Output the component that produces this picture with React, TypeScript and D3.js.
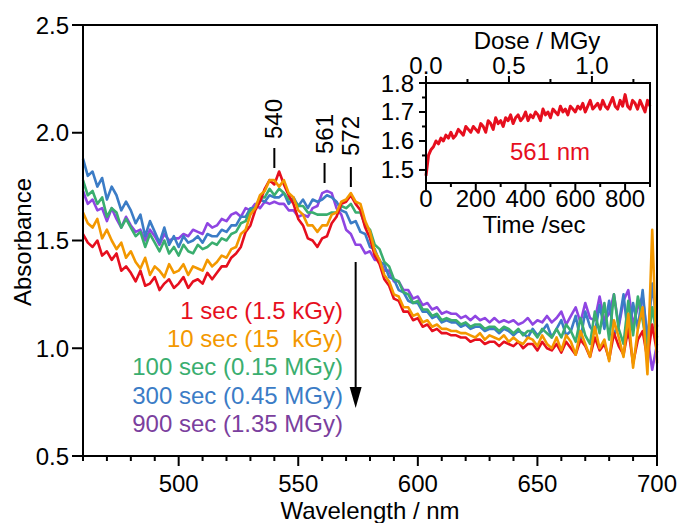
import React, { useEffect, useRef } from 'react';
import * as d3 from 'd3';

const width = 677;
const height = 523;
const plot = { left: 83, right: 657, top: 25, bottom: 456 };
const inset = { left: 426, right: 650, top: 83, bottom: 183 };
const font = "'Liberation Sans', Arial, Helvetica, sans-serif";

// wavelength axis of the spectra, every 2 nm from 460 to 700
const wlStart = 460;
const wlStep = 2;

// absorbance spectra
const sec1 = [
  1.53, 1.49, 1.47, 1.50, 1.43, 1.45, 1.41, 1.44, 1.36, 1.38,
  1.35, 1.31, 1.36, 1.29, 1.30, 1.33, 1.27, 1.30, 1.32, 1.28,
  1.30, 1.33, 1.28, 1.31, 1.32, 1.30, 1.35, 1.32, 1.35, 1.38,
  1.38, 1.42, 1.44, 1.47, 1.54, 1.57, 1.64, 1.68, 1.74, 1.78,
  1.76, 1.82, 1.76, 1.71, 1.67, 1.60, 1.57, 1.51, 1.50, 1.47,
  1.51, 1.52, 1.58, 1.61, 1.67, 1.68, 1.71, 1.67, 1.64, 1.56,
  1.51, 1.43, 1.39, 1.32, 1.29, 1.23, 1.22, 1.17, 1.17, 1.13,
  1.14, 1.10, 1.11, 1.08, 1.09, 1.07, 1.07, 1.06, 1.06, 1.05,
  1.05, 1.03, 1.04, 1.04, 1.02, 1.03, 1.03, 1.01, 1.03, 1.02,
  1.01, 1.03, 1.00, 1.02, 1.02, 0.99, 1.03, 1.00, 0.99, 1.02,
  0.98, 1.03, 1.00, 0.97, 1.04, 1.01, 0.96, 1.05, 0.99, 1.02,
  0.95, 1.07, 1.01, 0.97, 1.09, 0.93, 1.04, 1.08, 0.95, 1.11,
  0.98,
];
const sec10 = [
  1.63, 1.58, 1.56, 1.60, 1.51, 1.55, 1.50, 1.46, 1.49, 1.42,
  1.45, 1.40, 1.37, 1.42, 1.34, 1.38, 1.36, 1.33, 1.39, 1.35,
  1.36, 1.39, 1.34, 1.38, 1.37, 1.36, 1.41, 1.38, 1.40, 1.43,
  1.42, 1.46, 1.47, 1.53, 1.55, 1.62, 1.65, 1.71, 1.73, 1.78,
  1.78, 1.75, 1.78, 1.72, 1.70, 1.64, 1.62, 1.57, 1.57, 1.54,
  1.57, 1.57, 1.62, 1.63, 1.68, 1.69, 1.72, 1.68, 1.67, 1.59,
  1.54, 1.45, 1.41, 1.34, 1.31, 1.25, 1.24, 1.19, 1.19, 1.15,
  1.16, 1.12, 1.13, 1.10, 1.11, 1.09, 1.09, 1.08, 1.08, 1.07,
  1.07, 1.06, 1.05, 1.07, 1.04, 1.06, 1.05, 1.04, 1.06, 1.03,
  1.05, 1.03, 1.02, 1.05, 1.04, 1.01, 1.06, 1.02, 1.00, 1.05,
  0.99, 1.06, 1.03, 0.97, 1.08, 1.02, 0.96, 1.10, 1.00, 1.04,
  0.94, 1.13, 1.05, 0.96, 1.16, 0.91, 1.09, 1.19, 0.88, 1.55,
  0.93,
];
const sec100 = [
  1.78, 1.71, 1.73, 1.67, 1.70, 1.61, 1.65, 1.63, 1.56, 1.60,
  1.56, 1.52, 1.54, 1.47, 1.53, 1.49, 1.45, 1.50, 1.44, 1.47,
  1.43, 1.48, 1.45, 1.44, 1.48, 1.46, 1.47, 1.49, 1.48, 1.51,
  1.50, 1.53, 1.54, 1.58, 1.59, 1.64, 1.65, 1.70, 1.70, 1.74,
  1.71, 1.74, 1.72, 1.69, 1.69, 1.66, 1.66, 1.63, 1.63, 1.62,
  1.62, 1.62, 1.63, 1.63, 1.66, 1.65, 1.67, 1.63, 1.63, 1.57,
  1.55, 1.48, 1.46, 1.40, 1.38, 1.32, 1.31, 1.26, 1.25, 1.21,
  1.22, 1.18, 1.18, 1.15, 1.16, 1.13, 1.14, 1.13, 1.13, 1.11,
  1.12, 1.10, 1.11, 1.11, 1.09, 1.10, 1.10, 1.08, 1.10, 1.09,
  1.07, 1.09, 1.06, 1.08, 1.08, 1.05, 1.09, 1.07, 1.05, 1.09,
  1.05, 1.11, 1.08, 1.03, 1.14, 1.06, 1.02, 1.17, 1.07, 1.21,
  1.04, 1.25, 1.09, 1.02, 1.22, 1.06, 1.24, 1.13, 1.00, 1.19,
  1.05,
];
const sec300 = [
  1.88, 1.80, 1.82, 1.75, 1.79, 1.69, 1.75, 1.71, 1.64, 1.68,
  1.64, 1.58, 1.62, 1.52, 1.59, 1.54, 1.49, 1.56, 1.48, 1.52,
  1.47, 1.52, 1.49, 1.50, 1.52, 1.49, 1.53, 1.52, 1.52, 1.55,
  1.54, 1.57, 1.57, 1.61, 1.61, 1.65, 1.65, 1.69, 1.68, 1.71,
  1.70, 1.70, 1.72, 1.67, 1.70, 1.66, 1.69, 1.65, 1.69, 1.68,
  1.69, 1.71, 1.70, 1.68, 1.64, 1.63, 1.58, 1.59, 1.54, 1.53,
  1.47, 1.46, 1.40, 1.39, 1.33, 1.32, 1.27, 1.26, 1.22, 1.21,
  1.21, 1.17, 1.17, 1.14, 1.15, 1.12, 1.13, 1.12, 1.12, 1.10,
  1.11, 1.09, 1.10, 1.10, 1.08, 1.09, 1.09, 1.07, 1.09, 1.08,
  1.06, 1.08, 1.07, 1.05, 1.09, 1.06, 1.08, 1.11, 1.05, 1.09,
  1.13, 1.06, 1.08, 1.15, 1.04, 1.17, 1.10, 1.07, 1.20, 1.09,
  1.22, 1.06, 1.11, 1.25, 1.05, 1.21, 1.09, 1.27, 1.03, 1.30,
  1.10,
];
const sec900 = [
  1.73, 1.67, 1.69, 1.64, 1.65, 1.59, 1.65, 1.60, 1.56, 1.61,
  1.57, 1.54, 1.55, 1.50, 1.55, 1.52, 1.48, 1.53, 1.50, 1.51,
  1.51, 1.53, 1.52, 1.55, 1.54, 1.53, 1.58, 1.56, 1.57, 1.60,
  1.59, 1.62, 1.63, 1.61, 1.65, 1.64, 1.67, 1.65, 1.68, 1.67,
  1.68, 1.67, 1.67, 1.64, 1.64, 1.61, 1.62, 1.61, 1.65, 1.66,
  1.72, 1.73, 1.72, 1.65, 1.62, 1.55, 1.53, 1.48, 1.48, 1.44,
  1.45, 1.41, 1.41, 1.36, 1.36, 1.31, 1.31, 1.27, 1.27, 1.23,
  1.24, 1.20, 1.21, 1.18, 1.19, 1.16, 1.17, 1.16, 1.16, 1.14,
  1.15, 1.13, 1.15, 1.13, 1.14, 1.12, 1.14, 1.12, 1.13, 1.12,
  1.13, 1.11, 1.12, 1.14, 1.11, 1.13, 1.12, 1.15, 1.12, 1.14,
  1.17, 1.11, 1.15, 1.19, 1.12, 1.21, 1.14, 1.13, 1.24, 1.13,
  1.16, 1.25, 1.10, 1.22, 1.27, 1.11, 1.19, 1.24, 1.05, 0.90,
  1.02,
];

const seriesLabels = [
  '1 sec (1.5 kGy)',
  '10 sec (15  kGy)',
  '100 sec (0.15 MGy)',
  '300 sec (0.45 MGy)',
  '900 sec (1.35 MGy)',
];
const seriesData = [sec1, sec10, sec100, sec300, sec900];
const lineColors = ['#e60f1e', '#f39800', '#3aae6f', '#3b7cc6', '#8f45e2'];
const labelColors = ['#e60f1e', '#f39800', '#3aae6f', '#3b7cc6', '#7b3f9e'];
const drawOrder = [4, 3, 2, 0, 1];

const xMajor = [500, 550, 600, 650, 700];
const yMajor = [0.5, 1.0, 1.5, 2.0, 2.5];
const peaks = [540, 561, 572];

// inset: 561 nm absorbance vs irradiation time, every 10 s
const timeStep = 10;
const abs561 = [
  1.48, 1.55, 1.57, 1.58, 1.60, 1.59, 1.61, 1.60, 1.62, 1.61,
  1.63, 1.61, 1.62, 1.64, 1.63, 1.62, 1.65, 1.64, 1.63, 1.65,
  1.64, 1.63, 1.66, 1.65, 1.63, 1.67, 1.66, 1.64, 1.68, 1.66,
  1.67, 1.65, 1.68, 1.67, 1.69, 1.66, 1.68, 1.69, 1.67, 1.68,
  1.70, 1.67, 1.69, 1.68, 1.70, 1.69, 1.67, 1.71, 1.69, 1.70,
  1.68, 1.71, 1.70, 1.69, 1.72, 1.70, 1.71, 1.69, 1.72, 1.71,
  1.70, 1.72, 1.71, 1.73, 1.70, 1.72, 1.74, 1.71, 1.72, 1.73,
  1.71, 1.74, 1.72, 1.71, 1.73, 1.75, 1.72, 1.71, 1.74, 1.72,
  1.76, 1.72, 1.71, 1.74, 1.73, 1.71, 1.74, 1.72, 1.70, 1.74,
  1.72,
];
const timeTicks = [0, 200, 400, 600, 800];
const absTicks = [1.5, 1.6, 1.7, 1.8];
const doseTicks = [0.0, 0.5, 1.0];

const App = () => {
  const ref = useRef<SVGSVGElement>(null);

  useEffect(() => {
    const svg = d3.select(ref.current);
    svg.selectAll('*').remove();

    const x = d3.scaleLinear().domain([460, 700]).range([plot.left, plot.right]);
    const y = d3.scaleLinear().domain([0.5, 2.5]).range([plot.bottom, plot.top]);

    // spectra
    const line = d3.line<number>()
      .x((d, i) => x(wlStart + i * wlStep))
      .y(d => y(d));

    svg.append('g')
      .selectAll('path')
      .data(drawOrder)
      .join('path')
      .attr('d', k => line(seriesData[k]))
      .attr('fill', 'none')
      .attr('stroke', k => lineColors[k])
      .attr('stroke-width', 2.6)
      .attr('stroke-linejoin', 'round');

    // frame
    svg.append('rect')
      .attr('x', plot.left).attr('y', plot.top)
      .attr('width', plot.right - plot.left).attr('height', plot.bottom - plot.top)
      .attr('fill', 'none').attr('stroke', '#000').attr('stroke-width', 2);

    // x ticks
    svg.append('g').attr('stroke', '#000').attr('stroke-width', 2)
      .selectAll('line')
      .data(d3.range(460, 701, 10))
      .join('line')
      .attr('x1', d => x(d)).attr('x2', d => x(d))
      .attr('y1', plot.bottom)
      .attr('y2', d => plot.bottom + (d % 50 === 0 ? 10 : 5));

    svg.append('g')
      .selectAll('text')
      .data(xMajor)
      .join('text')
      .attr('x', d => x(d)).attr('y', 492)
      .attr('text-anchor', 'middle')
      .text(d => d);

    // y ticks
    svg.append('g').attr('stroke', '#000').attr('stroke-width', 2)
      .selectAll('line')
      .data(yMajor)
      .join('line')
      .attr('x1', plot.left - 11).attr('x2', plot.left)
      .attr('y1', d => y(d)).attr('y2', d => y(d));

    svg.append('g')
      .selectAll('text')
      .data(yMajor)
      .join('text')
      .attr('x', 69).attr('y', d => y(d) + 8.5)
      .attr('text-anchor', 'end')
      .text(d => d.toFixed(1));

    svg.append('text')
      .attr('x', 370).attr('y', 519)
      .attr('text-anchor', 'middle')
      .text('Wavelength / nm');

    svg.append('text')
      .attr('transform', `translate(31,242) rotate(-90)`)
      .attr('text-anchor', 'middle')
      .text('Absorbance');

    // peak markers
    const peakTop = [148, 163, 167];
    const peakTextStart = [139, 154, 156];
    const peakG = svg.append('g');
    peakG.selectAll('line')
      .data(peaks)
      .join('line')
      .attr('x1', d => x(d)).attr('x2', d => x(d))
      .attr('y1', (d, i) => peakTop[i]).attr('y2', (d, i) => peakTop[i] + 20)
      .attr('stroke', '#000').attr('stroke-width', 2);
    peakG.selectAll('text')
      .data(peaks)
      .join('text')
      .attr('transform', (d, i) => `translate(${x(d) + 8},${peakTextStart[i]}) rotate(-90)`)
      .text(d => d);

    // legend
    svg.append('g')
      .selectAll('text')
      .data(seriesLabels)
      .join('text')
      .attr('x', 343).attr('y', (d, i) => 319 + i * 28.2)
      .attr('text-anchor', 'end')
      .attr('fill', (d, i) => labelColors[i])
      .style('white-space', 'pre')
      .text(d => d);

    // arrow
    const ax = x(574);
    svg.append('line')
      .attr('x1', ax).attr('x2', ax).attr('y1', 262).attr('y2', 392)
      .attr('stroke', '#000').attr('stroke-width', 2);
    svg.append('path')
      .attr('d', `M${ax - 6},387 L${ax + 6},387 L${ax},408 Z`)
      .attr('fill', '#000');

    // inset
    const xi = d3.scaleLinear().domain([0, 900]).range([inset.left, inset.right]);
    const xd = d3.scaleLinear().domain([0, 1.35]).range([inset.left, inset.right]);
    const yi = d3.scaleLinear().domain([1.455, 1.8]).range([inset.bottom, inset.top]);

    const insetLine = d3.line<number>()
      .x((d, i) => xi(i * timeStep))
      .y(d => yi(d));

    svg.append('path')
      .attr('d', insetLine(abs561))
      .attr('fill', 'none')
      .attr('stroke', '#e60f1e')
      .attr('stroke-width', 3)
      .attr('stroke-linejoin', 'round');

    svg.append('rect')
      .attr('x', inset.left).attr('y', inset.top)
      .attr('width', inset.right - inset.left).attr('height', inset.bottom - inset.top)
      .attr('fill', 'none').attr('stroke', '#000').attr('stroke-width', 2);

    const ig = svg.append('g').attr('stroke', '#000').attr('stroke-width', 2);
    ig.selectAll('.yt')
      .data(d3.range(1.5, 1.81, 0.05))
      .join('line').attr('class', 'yt')
      .attr('x1', (d, i) => inset.left - (i % 2 === 0 ? 7 : 4)).attr('x2', inset.left)
      .attr('y1', d => yi(d)).attr('y2', d => yi(d));
    ig.selectAll('.xt')
      .data(d3.range(0, 901, 100))
      .join('line').attr('class', 'xt')
      .attr('x1', d => xi(d)).attr('x2', d => xi(d))
      .attr('y1', inset.bottom).attr('y2', d => inset.bottom + (d % 200 === 0 ? 7 : 4));
    ig.selectAll('.dt')
      .data(d3.range(0, 1.3, 0.25))
      .join('line').attr('class', 'dt')
      .attr('x1', d => xd(d)).attr('x2', d => xd(d))
      .attr('y1', inset.top).attr('y2', (d, i) => inset.top - (i % 2 === 0 ? 7 : 4));

    svg.append('g')
      .selectAll('text')
      .data(absTicks)
      .join('text')
      .attr('x', 414).attr('y', d => yi(d) + 8.5)
      .attr('text-anchor', 'end')
      .text(d => d.toFixed(1));
    svg.append('g')
      .selectAll('text')
      .data(timeTicks)
      .join('text')
      .attr('x', d => xi(d)).attr('y', 207)
      .attr('text-anchor', 'middle')
      .text(d => d);
    svg.append('g')
      .selectAll('text')
      .data(doseTicks)
      .join('text')
      .attr('x', d => xd(d)).attr('y', 74)
      .attr('text-anchor', 'middle')
      .text(d => d.toFixed(1));

    svg.append('text')
      .attr('x', 537).attr('y', 49)
      .attr('text-anchor', 'middle')
      .text('Dose / MGy');
    svg.append('text')
      .attr('x', 534).attr('y', 233)
      .attr('text-anchor', 'middle')
      .text('Time /sec');
    svg.append('text')
      .attr('x', 550).attr('y', 160)
      .attr('text-anchor', 'middle')
      .attr('fill', '#e60f1e')
      .text('561 nm');
  }, []);

  return (
    <svg
      ref={ref}
      width={width}
      height={height}
      style={{ position: 'absolute', left: 0, top: 0, background: '#fff' }}
      fontFamily={font}
      fontSize={24}
    />
  );
};

export default App;
